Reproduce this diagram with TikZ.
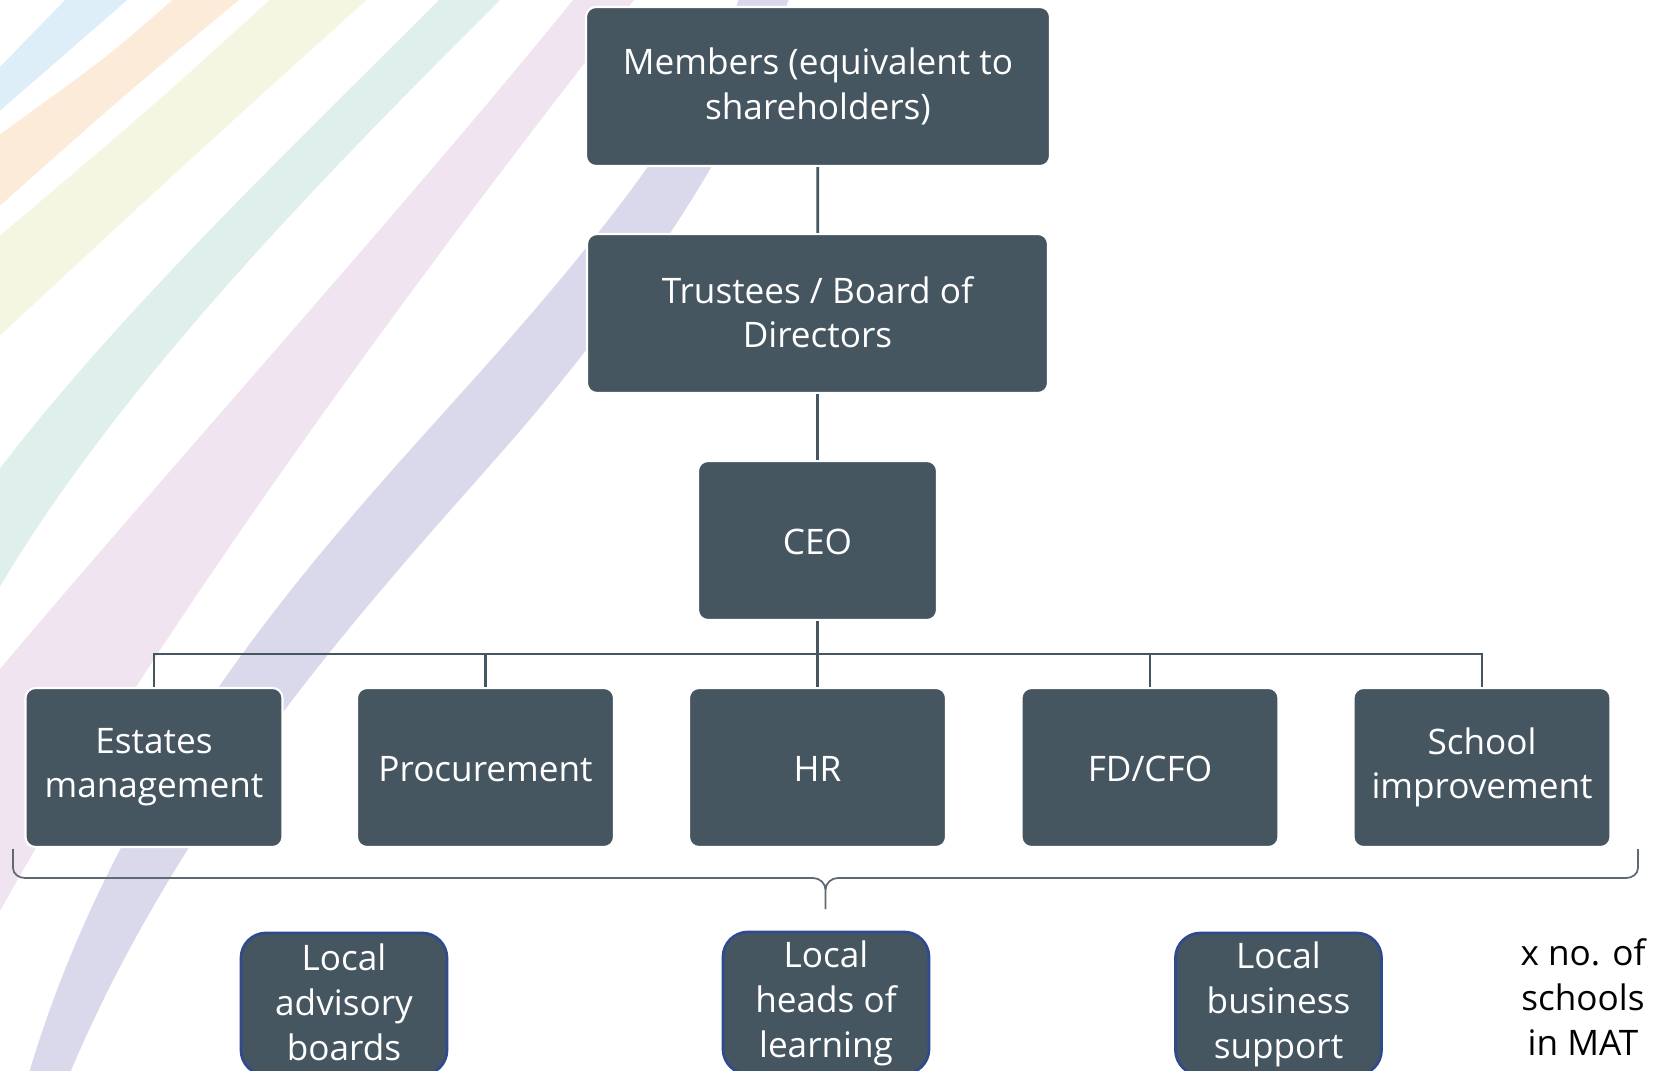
\documentclass[tikz,border=0pt]{standalone}
\usepackage{fontspec}
\setmainfont{Open Sans}
\usetikzlibrary{positioning}

\definecolor{slate}{HTML}{465661}
\definecolor{bracegrey}{HTML}{5E6A73}
\definecolor{rimblue}{HTML}{2F4B8E}
\definecolor{bandblue}{HTML}{DDEEF9}
\definecolor{bandorange}{HTML}{FDEBDA}
\definecolor{bandyellow}{HTML}{F4F6E2}
\definecolor{bandteal}{HTML}{DFF0EC}
\definecolor{bandpink}{HTML}{F0E4F1}
\definecolor{bandpurple}{HTML}{D9D9EB}

\tikzset{
  post/.style={fill=slate, draw=white, line width=0.6pt, rounded corners=0.1cm,
    text=white, align=center, minimum width=2.57cm, minimum height=1.59cm,
    inner sep=0pt, font=\fontsize{10}{12.6}\selectfont,
    execute at begin node={\rule{0pt}{9pt}},
    execute at end node={\rule[-1pt]{0pt}{1pt}}},
  localbox/.style={post, draw=rimblue, line width=0.8pt, rounded corners=0.25cm,
    minimum width=2.06cm, minimum height=1.42cm, font=\fontsize{10}{12.8}\selectfont},
  link/.style={draw=slate, line width=0.8pt},
  bracket/.style={draw=bracegrey, line width=0.5pt}
}

\begin{document}
\begin{tikzpicture}
  \useasboundingbox (0,0) rectangle (16.53,-10.71);
  \clip (0,0) rectangle (16.53,-10.71);
  \fill[white] (0,0) rectangle (16.53,-10.71);

  % pastel bands
  \fill[bandblue] (0.70,0.05) -- (-0.05,-0.72) -- (-0.05,-1.15) -- (1.33,0.05) -- cycle;
  \fill[bandorange] (1.78,0.05) .. controls (1.1,-0.55) .. (-0.05,-1.38)
    -- (-0.05,-2.10) .. controls (1.3,-0.90) .. (2.45,0.05) -- cycle;
  \fill[bandyellow] (2.75,0.05) .. controls (1.6,-1.0) .. (-0.05,-2.40)
    -- (-0.05,-3.40) .. controls (2.0,-1.5) .. (3.72,0.05) -- cycle;
  \fill[bandteal] (4.44,0.05) .. controls (3.0,-1.4) and (1.2,-3.1) .. (-0.05,-4.75)
    -- (-0.05,-5.95) .. controls (1.2,-3.8) and (3.4,-1.6) .. (5.05,0.05) -- cycle;
  \fill[bandpink] (5.77,0.05) .. controls (4.2,-1.9) and (1.5,-4.9) .. (-0.05,-6.75)
    -- (-0.05,-9.2) .. controls (1.6,-6.2) and (4.6,-2.2) .. (6.38,0.05) -- cycle;
  \fill[bandpurple] (7.40,0.05) .. controls (7.1,-1.0) and (6.0,-2.4) .. (4.55,-4.00)
    .. controls (3.3,-5.4) and (1.2,-7.6) .. (0.27,-10.80)
    -- (0.67,-10.80) .. controls (2.0,-7.6) and (4.4,-5.3) .. (5.46,-4.00)
    .. controls (6.7,-2.5) and (7.6,-1.0) .. (7.90,0.05) -- cycle;

  \node[post, minimum width=4.64cm] (members) at (8.18,-0.865) {Members (equivalent to\\shareholders)};
  \node[post, minimum width=4.61cm] (trustees) at (8.175,-3.135) {Trustees / Board of\\Directors};
  \node[post, minimum width=2.39cm] (ceo) at (8.175,-5.405) {CEO};

  \node[post] (estates) at (1.54,-7.675) {Estates\\management};
  \node[post] (procurement) at (4.855,-7.675) {Procurement};
  \node[post] (hr) at (8.175,-7.675) {HR};
  \node[post] (fdcfo) at (11.50,-7.675) {FD/CFO};
  \node[post] (improvement) at (14.82,-7.675) {School\\improvement};

  \coordinate (bus) at (8.175,-6.54);
  \draw[link] (members) -- (trustees);
  \draw[link] (trustees) -- (ceo);
  \draw[link] (ceo) -- (hr);
  \draw[link] (estates.north) |- (bus) -| (improvement.north);
  \draw[link] (procurement.north) -- (procurement.north |- bus);
  \draw[link] (fdcfo.north) -- (fdcfo.north |- bus);

  \draw[bracket] (0.13,-8.49) -- (0.13,-8.68) to[out=-90,in=180] (0.25,-8.78)
    -- (8.13,-8.78) to[out=0,in=90] (8.255,-8.90) -- (8.255,-9.09)
    (8.255,-8.90) to[out=90,in=180] (8.38,-8.78)
    -- (16.26,-8.78) to[out=0,in=-90] (16.38,-8.68) -- (16.38,-8.49);

  \node[localbox] (advisory) at (3.44,-10.04) {Local\\advisory\\boards};
  \node[localbox] (heads) at (8.26,-10.03) {Local\\heads of\\learning};
  \node[localbox] (business) at (12.785,-10.04) {Local\\business\\support};

  \node[align=center, font=\fontsize{10}{12.8}\selectfont] (count) at (15.83,-9.97) {x no. of\\schools\\in MAT};
\end{tikzpicture}
\end{document}
